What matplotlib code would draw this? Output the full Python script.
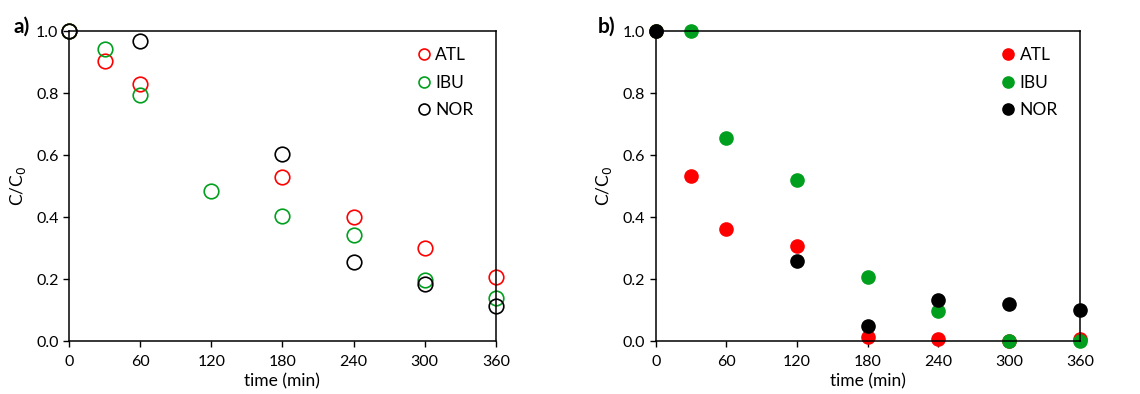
import matplotlib.pyplot as plt

plt.rcParams['font.family'] = ['Lato', 'DejaVu Sans']

# panel a data
a_atl_t = [0, 30, 60, 180, 240, 300, 360]
a_atl = [1.0, 0.904, 0.829, 0.530, 0.400, 0.299, 0.207]
a_ibu_t = [0, 30, 60, 120, 180, 240, 300, 360]
a_ibu = [1.0, 0.943, 0.793, 0.485, 0.402, 0.343, 0.198, 0.139]
a_nor_t = [0, 60, 180, 240, 300, 360]
a_nor = [1.0, 0.969, 0.605, 0.255, 0.185, 0.112]

# panel b data
b_atl_t = [0, 30, 60, 120, 180, 240, 300, 360]
b_atl = [1.0, 0.534, 0.362, 0.306, 0.013, 0.007, 0.0, 0.007]
b_ibu_t = [0, 30, 60, 120, 180, 240, 300, 360]
b_ibu = [1.0, 1.0, 0.656, 0.519, 0.205, 0.096, 0.0, 0.0]
b_nor_t = [0, 120, 180, 240, 300, 360]
b_nor = [1.0, 0.259, 0.047, 0.133, 0.118, 0.100]

labels = ['ATL', 'IBU', 'NOR']
colors = ['#ff0000', '#00a01e', '#000000']
xticks = [0, 60, 120, 180, 240, 300, 360]
yticks = [0.0, 0.2, 0.4, 0.6, 0.8, 1.0]

fig = plt.figure(figsize=(11.4, 3.94), dpi=100)
ax1 = fig.add_axes([0.0605, 0.1345, 0.3745, 0.7865])
ax2 = fig.add_axes([0.5752, 0.1345, 0.3720, 0.7865])

# open circles in a), filled in b)
for t, y, lab, c in zip([a_atl_t, a_ibu_t, a_nor_t], [a_atl, a_ibu, a_nor], labels, colors):
    ax1.plot(t, y, 'o', ms=10.5, mfc='none', mec=c, mew=1.2, label=lab, clip_on=False)

for t, y, lab, c in zip([b_atl_t, b_ibu_t, b_nor_t], [b_atl, b_ibu, b_nor], labels, colors):
    ax2.plot(t, y, 'o', ms=9.5, mfc=c, mec=c, label=lab, clip_on=False)

for ax, tag, off in [(ax1, 'a)', -0.129), (ax2, 'b)', -0.137)]:
    ax.set_xlim(0, 360)
    ax.set_ylim(0, 1.0)
    ax.set_xticks(xticks)
    ax.set_yticks(yticks)
    ax.set_yticklabels(['%.1f' % v for v in yticks])
    ax.tick_params(direction='out', length=4, width=1, labelsize=11.5, color='#000000')
    ax.tick_params(axis='x', pad=6)
    ax.set_xlabel('time (min)', fontsize=12.5, labelpad=3)
    ax.set_ylabel('C/C$_0$', fontsize=12.5, labelpad=6)
    for s in ax.spines.values():
        s.set_linewidth(1.1)
    ax.text(off, 1.013, tag, transform=ax.transAxes, fontsize=15, fontweight='bold',
            ha='left', va='center')

ax1.legend(loc='upper left', bbox_to_anchor=(0.795, 0.97), frameon=False, fontsize=12.5,
           handletextpad=0.15, labelspacing=0.65, borderaxespad=0, handlelength=1.0,
           markerscale=0.75)
ax2.legend(loc='upper left', bbox_to_anchor=(0.795, 0.97), frameon=False, fontsize=12.5,
           handletextpad=0.15, labelspacing=0.65, borderaxespad=0, handlelength=1.0,
           markerscale=0.85)

fig.savefig('out.png', dpi=100)
